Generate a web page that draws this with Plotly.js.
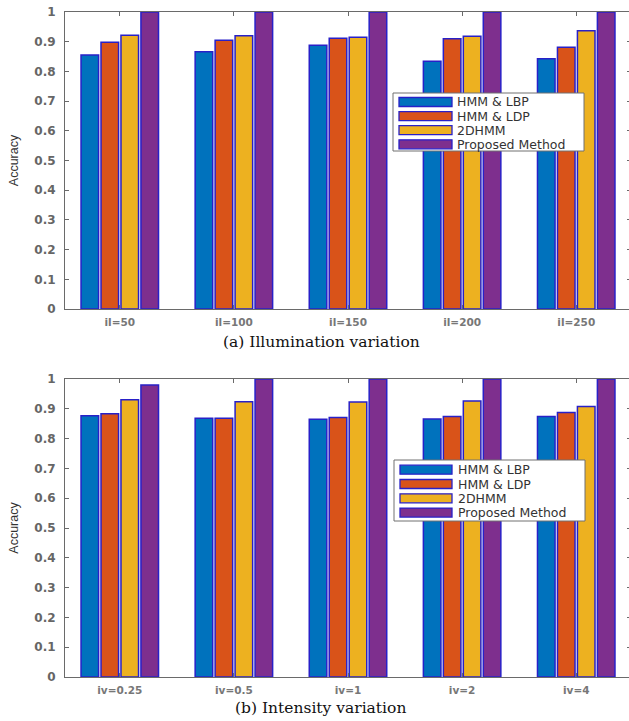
<!DOCTYPE html>
<html>
<head>
<meta charset="utf-8">
<script src="https://cdn.plot.ly/plotly-3.0.1.min.js"></script>
<style>
  html, body { margin: 0; padding: 0; overflow: hidden; background: #fff; }
  #chart { width: 636px; height: 721px; }
</style>
</head>
<body>
<div id="chart"></div>
<script>
// ---- data ----
const categoriesA = ['il=50', 'il=100', 'il=150', 'il=200', 'il=250'];
const categoriesB = ['iv=0.25', 'iv=0.5', 'iv=1', 'iv=2', 'iv=4'];
const seriesNames = ['HMM & LBP', 'HMM & LDP', '2DHMM', 'Proposed Method'];
const seriesColors = ['#0072BD', '#D95319', '#EDB120', '#7E2F8E'];

const illumLBP  = [0.855, 0.866, 0.888, 0.834, 0.843];
const illumLDP  = [0.898, 0.905, 0.912, 0.910, 0.881];
const illum2DHMM = [0.922, 0.920, 0.915, 0.918, 0.937];
const illumProposed = [1.0, 1.0, 1.0, 1.0, 1.0];

const intenLBP  = [0.877, 0.868, 0.865, 0.866, 0.874];
const intenLDP  = [0.883, 0.868, 0.871, 0.874, 0.888];
const inten2DHMM = [0.930, 0.924, 0.923, 0.926, 0.908];
const intenProposed = [0.980, 1.0, 1.0, 1.0, 1.0];

const captionA = '(a) Illumination variation';
const captionB = '(b) Intensity variation';
const yTitle = 'Accuracy';

// ---- geometry helpers (layout only) ----
const W = 636, H = 721, ML = 65, MR = 5;
const PW = W - ML - MR;
const px2x = p => (p - ML) / PW;
const px2y = p => 1 - p / H;

const edgeColor = 'rgb(40,32,200)';
const illumSeries = [illumLBP, illumLDP, illum2DHMM, illumProposed];
const intenSeries = [intenLBP, intenLDP, inten2DHMM, intenProposed];

const traces = [];
illumSeries.forEach((vals, i) => {
  traces.push({
    type: 'bar', x: categoriesA, y: vals, name: seriesNames[i],
    xaxis: 'x', yaxis: 'y', showlegend: false,
    marker: { color: seriesColors[i], line: { color: edgeColor, width: 1.5 } },
    hoverinfo: 'x+y+name'
  });
});
intenSeries.forEach((vals, i) => {
  traces.push({
    type: 'bar', x: categoriesB, y: vals, name: seriesNames[i],
    xaxis: 'x2', yaxis: 'y2', showlegend: false,
    marker: { color: seriesColors[i], line: { color: edgeColor, width: 1.5 } },
    hoverinfo: 'x+y+name'
  });
});

const axisCol = '#6a6a6a';
const tickFont = { family: 'DejaVu Sans', size: 12, color: '#666', weight: 'bold' };
const xTickFont = { family: 'DejaVu Sans', size: 10.5, color: '#777', weight: 'bold' };

function xAxis(anchor) {
  return {
    anchor: anchor, domain: [0, 1], type: 'category', range: [-0.48, 4.48],
    showline: true, linecolor: axisCol, linewidth: 1, mirror: 'ticks',
    ticks: 'inside', ticklen: 4, tickcolor: axisCol, tickwidth: 1,
    showgrid: false, zeroline: false, tickfont: xTickFont,
    ticklabelstandoff: 3, fixedrange: true
  };
}
function yAxis(anchor, dom) {
  return {
    anchor: anchor, domain: dom, range: [0, 1], dtick: 0.1, tick0: 0,
    showline: true, linecolor: axisCol, linewidth: 1, mirror: 'ticks',
    ticks: 'inside', ticklen: 4, tickcolor: axisCol, tickwidth: 1,
    showgrid: false, zeroline: false, tickfont: tickFont,
    ticklabelstandoff: 6, fixedrange: true,
    title: { text: yTitle, font: { family: 'Liberation Sans', size: 12.5, color: '#333' }, standoff: 12 }
  };
}

// ---- manual legends (one per panel) ----
const shapes = [];
const annotations = [];
function addLegend(boxL, boxT, boxR, boxB, firstCenter, step, swL, swR, textL) {
  shapes.push({
    type: 'rect', xref: 'paper', yref: 'paper',
    x0: px2x(boxL), x1: px2x(boxR), y0: px2y(boxB), y1: px2y(boxT),
    fillcolor: '#ffffff', line: { color: '#707070', width: 1 }, layer: 'above'
  });
  seriesNames.forEach((nm, i) => {
    const cy = firstCenter + i * step;
    shapes.push({
      type: 'rect', xref: 'paper', yref: 'paper',
      x0: px2x(swL), x1: px2x(swR), y0: px2y(cy + 4.5), y1: px2y(cy - 4.5),
      fillcolor: seriesColors[i], line: { color: edgeColor, width: 1.3 }, layer: 'above'
    });
    annotations.push({
      xref: 'paper', yref: 'paper', x: px2x(textL), y: px2y(cy),
      xanchor: 'left', yanchor: 'middle', showarrow: false, text: nm,
      font: { family: 'DejaVu Sans', size: 12.5, color: '#333' }
    });
  });
}
addLegend(393, 93, 584, 151, 102, 14.1, 399, 452, 455);
addLegend(394, 460, 585, 521, 469.7, 14.3, 400, 452, 456);

annotations.push({
  xref: 'paper', yref: 'paper', x: px2x(321), y: px2y(342),
  xanchor: 'center', yanchor: 'middle', showarrow: false, text: captionA,
  font: { family: 'DejaVu Serif', size: 15.5, color: '#111' }
});
annotations.push({
  xref: 'paper', yref: 'paper', x: px2x(320), y: px2y(708),
  xanchor: 'center', yanchor: 'middle', showarrow: false, text: captionB,
  font: { family: 'DejaVu Serif', size: 15.5, color: '#111' }
});

const layout = {
  width: W, height: H,
  margin: { l: ML, r: MR, t: 0, b: 0, pad: 0 },
  paper_bgcolor: '#ffffff', plot_bgcolor: '#ffffff',
  barmode: 'group', bargap: 0.30, bargroupgap: 0.12,
  showlegend: false,
  xaxis: xAxis('y'),
  yaxis: yAxis('x', [px2y(309), px2y(12)]),
  xaxis2: xAxis('y2'),
  yaxis2: yAxis('x2', [px2y(677), px2y(379)]),
  shapes: shapes,
  annotations: annotations,
  font: { family: 'DejaVu Sans' }
};

Plotly.newPlot('chart', traces, layout, { displayModeBar: false, staticPlot: true });
</script>
</body>
</html>
